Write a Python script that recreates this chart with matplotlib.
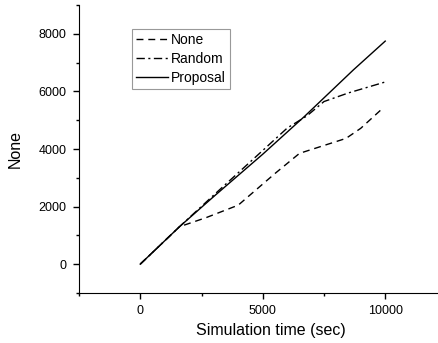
import matplotlib
matplotlib.use("Agg")
import matplotlib.pyplot as plt
from matplotlib.ticker import MultipleLocator

plt.rcParams['font.family'] = ['Liberation Sans', 'DejaVu Sans']

# values
none_x = [0, 1600, 2700, 4000, 5500, 6500, 8400, 9000, 9850]
none_y = [0, 1300, 1620, 2050, 3150, 3850, 4370, 4720, 5380]

random_x = [0, 1600, 3000, 5000, 6000, 6800, 7500, 8500, 10000]
random_y = [0, 1300, 2400, 3950, 4730, 5150, 5650, 5950, 6330]

proposal_x = [0, 1600, 3000, 5000, 6700, 8700, 10000]
proposal_y = [0, 1300, 2350, 3820, 5130, 6750, 7750]

fig = plt.figure(figsize=(4.39, 3.43), dpi=100)
ax = fig.add_axes([0.18, 0.146, 0.837, 0.839])

ax.plot(none_x, none_y, color='black', linestyle=(0, (5, 3.5)), linewidth=1.0, label='None')
ax.plot(random_x, random_y, color='black', linestyle=(0, (6, 2.5, 1.5, 2.5)), linewidth=1.0, label='Random')
ax.plot(proposal_x, proposal_y, color='black', linestyle='-', linewidth=1.0, label='Proposal')

ax.set_xlim(-2500, 12500)
ax.set_ylim(-1000, 9000)
ax.xaxis.set_major_locator(MultipleLocator(5000))
ax.xaxis.set_minor_locator(MultipleLocator(2500))
ax.yaxis.set_major_locator(MultipleLocator(2000))
ax.yaxis.set_minor_locator(MultipleLocator(1000))
ax.tick_params(which='both', direction='out', labelsize=9)
ax.tick_params(which='major', length=4, width=1, pad=5)
ax.tick_params(which='minor', length=2.5, width=1)
ax.spines['top'].set_visible(False)
ax.spines['right'].set_visible(False)

ax.set_xlabel('Simulation time (sec)', fontsize=11.5)
ax.xaxis.set_label_coords(0.522, -0.105)
ax.set_ylabel('None', fontsize=11.5)
ax.yaxis.set_label_coords(-0.152, 0.5)

leg = ax.legend(loc='upper left', bbox_to_anchor=(0.144, 0.917), borderaxespad=0,
                fontsize=10, frameon=True, fancybox=False, handlelength=2.3,
                handletextpad=0.2, borderpad=0.3, labelspacing=0.35)
leg.get_frame().set_edgecolor('gray')
leg.get_frame().set_linewidth(0.8)

fig.savefig('out.png', dpi=100)
